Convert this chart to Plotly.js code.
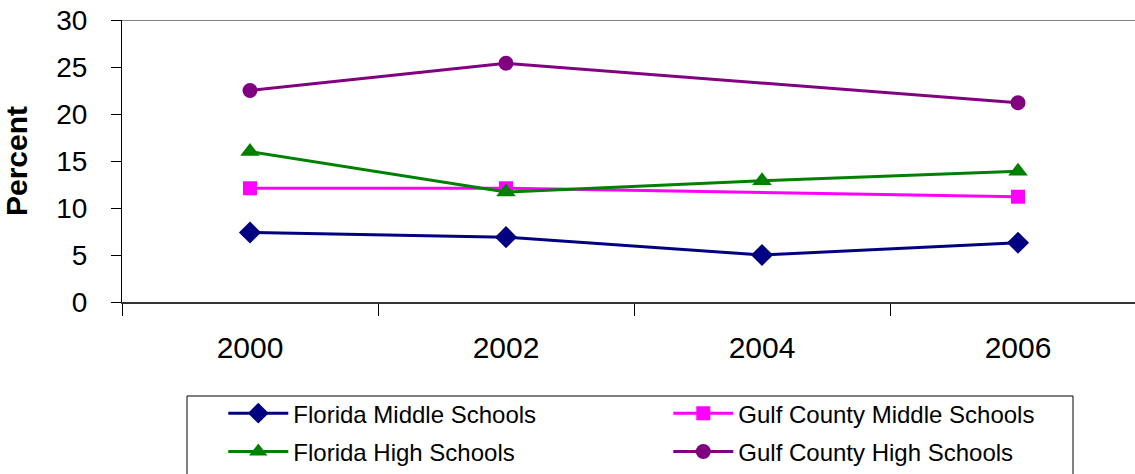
<!DOCTYPE html>
<html>
<head>
<meta charset="utf-8">
<script src="https://cdn.plot.ly/plotly-3.0.1.min.js"></script>
<style>
  html, body { margin: 0; padding: 0; background: #fff; }
  #chart { width: 1135px; height: 474px; }
</style>
</head>
<body>
<div id="chart"></div>
<script>
// Survey years
const years = ['2000', '2002', '2004', '2006'];

// Percent values (Gulf County has no 2004 survey)
const floridaMiddle = [7.4, 6.9, 5.0, 6.3];
const gulfMiddle = [12.1, 12.1, null, 11.2];
const floridaHigh = [16.0, 11.7, 12.9, 13.9];
const gulfHigh = [22.5, 25.4, null, 21.2];

const seriesNames = [
    'Florida Middle Schools',
    'Gulf County Middle Schools',
    'Florida High Schools',
    'Gulf County High Schools'
];

function makeTrace(name, values, color, symbol, size, legendId) {
    return {
        x: years,
        y: values,
        name: name,
        type: 'scatter',
        mode: 'lines+markers',
        connectgaps: true,
        legend: legendId,
        line: { color: color, width: 3 },
        marker: { color: color, symbol: symbol, size: size }
    };
}

// middle schools on the first legend row, high schools on the second
let traces = [
    makeTrace(seriesNames[0], floridaMiddle, '#000080', 'diamond', 17, 'legend'),
    makeTrace(seriesNames[1], gulfMiddle, '#FF00FF', 'square', 14, 'legend'),
    makeTrace(seriesNames[2], floridaHigh, '#008000', 'triangle-up', 17, 'legend2'),
    makeTrace(seriesNames[3], gulfHigh, '#800080', 'circle', 15, 'legend2')
];

function legendRow(y) {
    return {
        orientation: 'h',
        x: 0.1,
        xanchor: 'left',
        y: y,
        yanchor: 'top',
        entrywidth: 370,
        entrywidthmode: 'pixels',
        itemwidth: 60,
        font: { size: 24 },
        borderwidth: 0,
        bgcolor: 'rgba(0,0,0,0)'
    };
}

let layout = {
    width: 1135,
    height: 474,
    margin: { l: 122, r: 0, t: 20, b: 172, autoexpand: false },
    paper_bgcolor: '#ffffff',
    plot_bgcolor: '#ffffff',
    font: { family: 'Liberation Sans, Arial, sans-serif', color: '#000000' },
    showlegend: true,
    xaxis: {
        type: 'category',
        range: [-0.5, 3.457],
        tickson: 'boundaries',
        ticks: 'outside',
        ticklen: 12,
        tickcolor: '#000000',
        tickwidth: 1,
        showline: true,
        linecolor: '#333333',
        linewidth: 2,
        showgrid: false,
        zeroline: false,
        tickfont: { size: 30 },
        ticklabelstandoff: 18
    },
    yaxis: {
        range: [0, 30],
        dtick: 5,
        ticks: 'outside',
        ticklen: 10,
        tickcolor: '#000000',
        showline: true,
        linecolor: '#000000',
        linewidth: 1,
        showgrid: false,
        zeroline: false,
        tickfont: { size: 28 },
        ticklabelstandoff: 18,
        title: { text: '<b>Percent</b>', font: { size: 30 }, standoff: 19 }
    },
    legend: legendRow(-0.316),
    legend2: legendRow(-0.452),
    shapes: [
        // grey frame line at the top of the plot area
        { type: 'line', xref: 'paper', yref: 'y', x0: 0, x1: 1, y0: 30, y1: 30,
          line: { color: '#808080', width: 2 } },
        // legend box
        { type: 'rect', xref: 'paper', yref: 'paper',
          x0: (187 - 122) / 1013, x1: (1073 - 122) / 1013,
          y0: (302 - 490) / 282, y1: (302 - 396) / 282,
          line: { color: '#000000', width: 1 }, fillcolor: 'rgba(0,0,0,0)' }
    ]
};

Plotly.newPlot('chart', traces, layout, { staticPlot: true });
</script>
</body>
</html>
